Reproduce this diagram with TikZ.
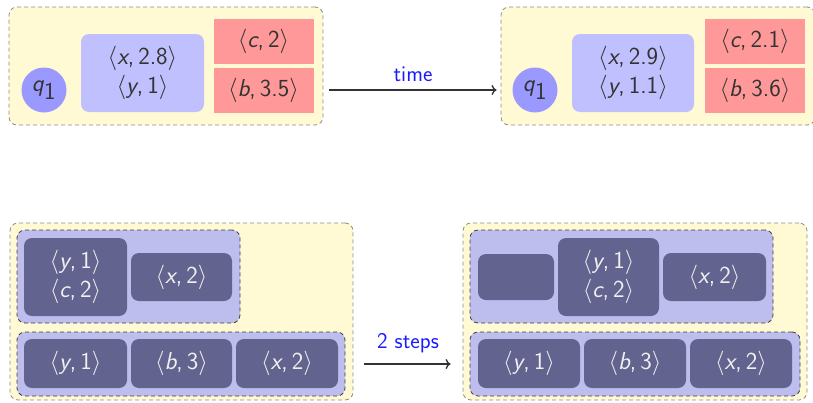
\RequirePackage{fix-cm}
\documentclass[tikz,border=0pt]{standalone}
\usepackage{fontspec}
\usetikzlibrary{arrows.meta}
\definecolor{yellowbg}{HTML}{FFF9D4}
\definecolor{grpfill}{HTML}{BDBDEE}
\definecolor{darkbox}{HTML}{63638F}
\definecolor{bluebox}{HTML}{C0C0FF}
\definecolor{qfill}{HTML}{9999FF}
\definecolor{redbox}{HTML}{FF9999}
\definecolor{txtdark}{HTML}{333333}
\definecolor{lblblue}{HTML}{1A1AFF}
\newcommand{\pr}[2]{$\langle$\textit{#1},\,#2$\rangle$}
\begin{document}
\begin{tikzpicture}[x=1pt,y=-1pt,
  font=\sffamily\fontsize{24.5}{29.5}\selectfont,
  every node/.style={inner sep=0pt, align=center},
  outerbox/.style={draw=gray!90, dash pattern=on 4pt off 3pt, fill=yellowbg, rounded corners=8pt, line width=0.8pt},
  grpbox/.style={draw=black!75, dash pattern=on 4pt off 3pt, fill=grpfill, rounded corners=8pt, line width=0.8pt},
  darkcell/.style={fill=darkbox, rounded corners=8pt, text=white!94!black},
  bluecell/.style={fill=bluebox, rounded corners=8pt, text=txtdark},
  redcell/.style={fill=redbox, text=txtdark},
  qcirc/.style={circle, fill=qfill, minimum size=45pt, text=txtdark},
  arr/.style={draw=txtdark, line width=1.3pt, -{To[length=5pt,width=10pt]}},
  lbl/.style={text=lblblue, font=\sffamily\fontsize{22.5}{25}\selectfont}
]
\useasboundingbox (0,0) rectangle (813,402);
% top left
\node[outerbox, minimum width=314pt, minimum height=118pt] (otl) at (166,66) {};
\node[qcirc] (q1l) at (44,90) {\textit{q}$_{\textsf{1}}$};
\node[bluecell, minimum width=123pt, minimum height=78pt] (bl) at (142.5,73) {\pr{x}{2.8}\\\pr{y}{1}};
\node[redcell, minimum width=100pt, minimum height=45pt] (rcl) at (263.5,41.5) {\pr{c}{2}};
\node[redcell, minimum width=100pt, minimum height=45pt] (rbl) at (263.5,90.5) {\pr{b}{3.5}};
% top right
\node[outerbox, minimum width=314pt, minimum height=118pt] (otr) at (658,66) {};
\node[qcirc] (q1r) at (535,90) {\textit{q}$_{\textsf{1}}$};
\node[bluecell, minimum width=122pt, minimum height=78pt] (br) at (633,73) {\pr{x}{2.9}\\\pr{y}{1.1}};
\node[redcell, minimum width=100pt, minimum height=45pt] (rcr) at (755,41.5) {\pr{c}{2.1}};
\node[redcell, minimum width=100pt, minimum height=45pt] (rbr) at (755,90.5) {\pr{b}{3.6}};
% time arrow
\coordinate (ta) at ([xshift=6pt]otl.east |- q1l.center);
\coordinate (tb) at ([xshift=-4pt]otr.west |- q1r.center);
\draw[arr] (ta) -- (tb);
\node[lbl] (tl) at (413,74) {time};
% bottom left
\node[outerbox, minimum width=343pt, minimum height=177pt] (obl) at (181.5,311.5) {};
\node[grpbox, minimum width=223pt, minimum height=93pt] (g1l) at (128.5,276.5) {};
\node[darkcell, minimum width=103pt, minimum height=78pt] (d1l) at (75.5,277) {\pr{y}{1}\\\pr{c}{2}};
\node[darkcell, minimum width=101pt, minimum height=48pt] (d2l) at (181.5,277) {\pr{x}{2}};
\node[grpbox, minimum width=328pt, minimum height=64pt] (g2l) at (181,364) {};
\node[darkcell, minimum width=103pt, minimum height=49pt] (e1l) at (75.5,363.5) {\pr{y}{1}};
\node[darkcell, minimum width=101pt, minimum height=49pt] (e2l) at (181.5,363.5) {\pr{b}{3}};
\node[darkcell, minimum width=102pt, minimum height=49pt] (e3l) at (287,363.5) {\pr{x}{2}};
% bottom right
\node[outerbox, minimum width=344pt, minimum height=177pt] (obr) at (635,311.5) {};
\node[grpbox, minimum width=303pt, minimum height=93pt] (g1r) at (621.5,276.5) {};
\node[darkcell, minimum width=76pt, minimum height=46pt] (f0r) at (516,277) {};
\node[darkcell, minimum width=101pt, minimum height=78pt] (f1r) at (608.5,277) {\pr{y}{1}\\\pr{c}{2}};
\node[darkcell, minimum width=103pt, minimum height=48pt] (f2r) at (714.5,277) {\pr{x}{2}};
\node[grpbox, minimum width=330pt, minimum height=64pt] (g2r) at (635,364) {};
\node[darkcell, minimum width=102pt, minimum height=49pt] (h1r) at (529,363.5) {\pr{y}{1}};
\node[darkcell, minimum width=102pt, minimum height=49pt] (h2r) at (635,363.5) {\pr{b}{3}};
\node[darkcell, minimum width=102pt, minimum height=49pt] (h3r) at (741,363.5) {\pr{x}{2}};
% steps arrow
\coordinate (sa) at ([xshift=11pt]obl.east |- g2l.center);
\coordinate (sb) at ([xshift=-12pt]obr.west |- g2r.center);
\draw[arr] (sa) -- (sb);
\node[lbl] (sl) at (408,343) {2 steps};
\end{tikzpicture}
\end{document}
